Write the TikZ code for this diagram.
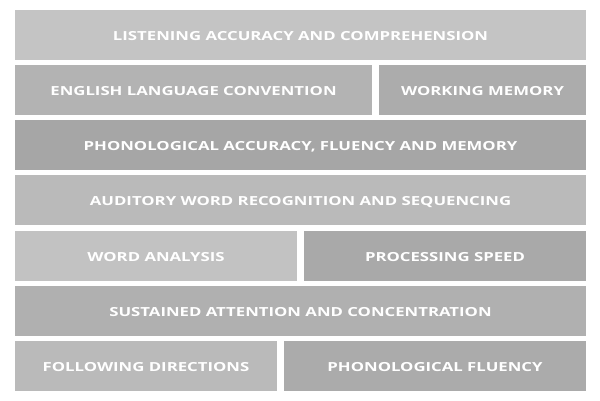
\documentclass[tikz,border=0pt]{standalone}
\usepackage{fontspec}
\newfontfamily\boxfont{Open Sans}[FakeStretch=1.34]
\begin{document}
\begin{tikzpicture}[x=1pt,y=-1pt,
  blk/.style={draw=none, rectangle, inner sep=0pt, outer sep=0pt, anchor=north west,
    minimum height=50pt, text height=11.5pt, text depth=0pt, text=white,
    font=\boxfont\bfseries\fontsize{12.5}{14}\selectfont},
  c1/.style={fill={rgb,255:red,196;green,196;blue,196}},
  c2/.style={fill={rgb,255:red,179;green,179;blue,179}},
  c3/.style={fill={rgb,255:red,172;green,172;blue,172}},
  c4/.style={fill={rgb,255:red,166;green,166;blue,166}},
  c5/.style={fill={rgb,255:red,186;green,186;blue,186}},
  c6/.style={fill={rgb,255:red,194;green,194;blue,194}},
  c7/.style={fill={rgb,255:red,169;green,169;blue,169}},
  c8/.style={fill={rgb,255:red,176;green,176;blue,176}},
  c9/.style={fill={rgb,255:red,171;green,171;blue,171}}]
\useasboundingbox[fill=white] (0,0) rectangle (600,400);
\node[blk,c1,minimum width=571pt] (lac) at (15,10) {LISTENING ACCURACY AND COMPREHENSION};
\node[blk,c2,minimum width=357pt] (elc) at (15,65) {ENGLISH LANGUAGE CONVENTION};
\node[blk,c3,minimum width=207pt] (wm) at (379,65) {WORKING MEMORY};
\node[blk,c4,minimum width=571pt] (pafm) at (15,120) {PHONOLOGICAL ACCURACY, FLUENCY AND MEMORY};
\node[blk,c5,minimum width=571pt] (awrs) at (15,175) {AUDITORY WORD RECOGNITION AND SEQUENCING};
\node[blk,c6,minimum width=282pt] (wa) at (15,231) {WORD ANALYSIS};
\node[blk,c7,minimum width=282pt] (ps) at (304,231) {PROCESSING SPEED};
\node[blk,c8,minimum width=571pt] (sac) at (15,286) {SUSTAINED ATTENTION AND CONCENTRATION};
\node[blk,c5,minimum width=262pt] (fd) at (15,341) {FOLLOWING DIRECTIONS};
\node[blk,c9,minimum width=302pt] (pf) at (284,341) {PHONOLOGICAL FLUENCY};
\end{tikzpicture}
\end{document}
